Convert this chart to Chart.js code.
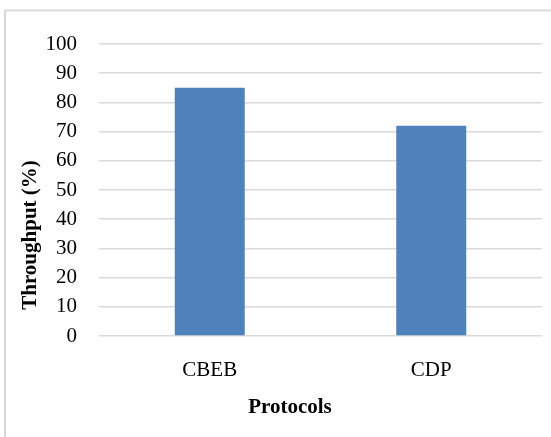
<!DOCTYPE html>
<html>
<head>
<meta charset="utf-8">
<script src="https://cdn.jsdelivr.net/npm/chart.js@4/dist/chart.umd.min.js"></script>
<style>
  html, body { margin: 0; padding: 0; background: #fff; overflow: hidden; }
  #wrap { width: 551px; height: 437px; position: relative; }
</style>
</head>
<body>
<div id="wrap"><canvas id="grafico" width="551" height="437"></canvas></div>
<script>
// datos del grafico
const protocolos = ['CBEB', 'CDP']
const throughput = [85, 72]
const ejeY = { min: 0, max: 100, paso: 10 }
const tituloX = 'Protocols'
const tituloY = 'Throughput (%)'

const fuente = { family: "'Liberation Serif', 'Times New Roman', serif", size: 21 }
const colorTexto = '#000000'
const colorGrilla = '#d9d9d9'

// marco exterior gris (solo se ve arriba y a la izquierda)
const marco = {
    id: 'marco',
    beforeDraw(chart) {
        const ctx = chart.ctx
        ctx.save()
        ctx.strokeStyle = colorGrilla
        ctx.lineWidth = 2
        ctx.beginPath()
        ctx.moveTo(5, chart.height)
        ctx.lineTo(5, 10.5)
        ctx.lineTo(chart.width, 10.5)
        ctx.stroke()
        ctx.restore()
    }
}

new Chart(document.getElementById('grafico'), {
    type: 'bar',
    data: {
        labels: protocolos,
        datasets: [{
            label: tituloY,
            data: throughput,
            backgroundColor: '#4f81bd',
            borderWidth: 0,
            barPercentage: 0.316,
            categoryPercentage: 1
        }]
    },
    options: {
        responsive: false,
        animation: false,
        layout: { padding: { top: 44, left: 38, right: 9, bottom: 11 } },
        plugins: {
            legend: { display: false },
            tooltip: { enabled: false },
            title: {
                display: true,
                position: 'bottom',
                text: tituloX,
                color: colorTexto,
                font: { ...fuente, weight: 'bold' },
                padding: { top: 0, bottom: 5.4 }
            },
            subtitle: {
                display: true,
                position: 'left',
                text: tituloY,
                color: colorTexto,
                font: { ...fuente, weight: 'bold' },
                padding: { top: -19.6, bottom: 0 }
            }
        },
        scales: {
            x: {
                grid: { display: false, drawTicks: false },
                border: { display: false },
                ticks: { color: colorTexto, font: fuente, padding: 22 },
                afterFit(scale) { scale.height = 59.4 }
            },
            y: {
                min: ejeY.min,
                max: ejeY.max,
                grid: { color: colorGrilla, lineWidth: 1.5, drawTicks: false },
                border: { display: false },
                ticks: { stepSize: ejeY.paso, color: colorTexto, font: fuente, padding: 22 },
                afterFit(scale) { scale.width = 55.4 }
            }
        }
    },
    plugins: [marco]
})
</script>
</body>
</html>
